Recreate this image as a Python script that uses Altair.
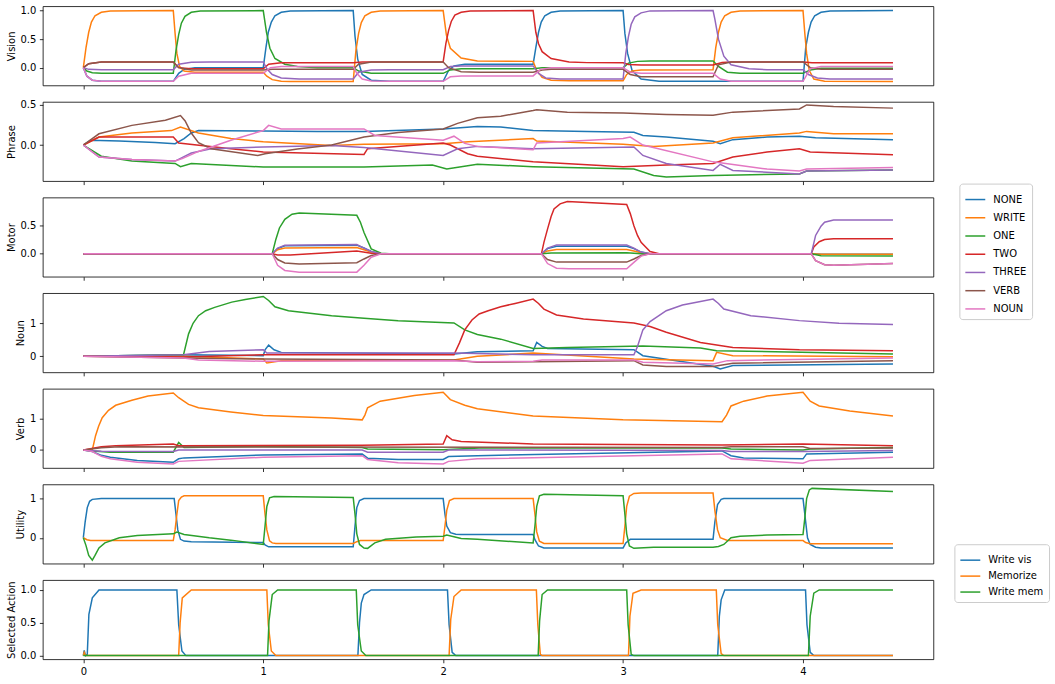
import altair as alt
import pandas as pd

T_DOMAIN = [-0.225, 4.725]
X_TICKS = [0, 1, 2, 3, 4]
STATE_NAMES = ["NONE", "WRITE", "ONE", "TWO", "THREE", "VERB", "NOUN"]
STATE_COLORS = ["#1f77b4", "#ff7f0e", "#2ca02c", "#d62728", "#9467bd", "#8c564b", "#e377c2"]
ACTION_NAMES = ["Write vis", "Memorize", "Write mem"]
ACTION_COLORS = ["#1f77b4", "#ff7f0e", "#2ca02c"]

# ---------------- Vision ----------------
VIS_NONE = [[0,0],[0.02,-0.15],[0.05,-0.22],[0.1,-0.24],[0.5,-0.24],[0.53,-0.1],[0.56,-0.03],[0.62,0.0],[1.0,0.0],[1.015,0.35],[1.028,0.62],[1.045,0.8],[1.065,0.91],[1.1,0.97],[1.15,0.995],[1.5,1.0],[1.51,0.55],[1.525,0.15],[1.55,-0.12],[1.6,-0.22],[1.7,-0.24],[2.0,-0.24],[2.03,-0.05],[2.06,0.03],[2.12,0.06],[2.5,0.06],[2.515,0.35],[2.53,0.62],[2.545,0.8],[2.565,0.91],[2.6,0.97],[2.65,0.995],[3.0,1.0],[3.01,0.6],[3.025,0.25],[3.05,-0.05],[3.1,-0.2],[3.2,-0.24],[4.0,-0.24],[4.015,0.35],[4.03,0.62],[4.045,0.8],[4.065,0.91],[4.1,0.97],[4.15,0.995],[4.5,1.0]]
VIS_WRITE = [[0,0],[0.015,0.35],[0.03,0.62],[0.045,0.8],[0.065,0.91],[0.1,0.97],[0.15,0.995],[0.5,1.0],[0.51,0.6],[0.52,0.25],[0.535,0.02],[0.56,-0.06],[0.62,-0.08],[1.0,-0.08],[1.02,-0.15],[1.05,-0.21],[1.1,-0.24],[1.15,-0.245],[1.5,-0.245],[1.515,0.3],[1.53,0.6],[1.545,0.79],[1.565,0.91],[1.6,0.97],[1.65,0.995],[2.0,1.0],[2.018,0.57],[2.04,0.34],[2.1,0.17],[2.19,0.115],[2.5,0.11],[2.52,-0.05],[2.55,-0.17],[2.6,-0.22],[2.7,-0.23],[3.0,-0.23],[3.02,-0.12],[3.05,-0.06],[3.1,-0.04],[3.5,-0.035],[3.515,0.35],[3.53,0.62],[3.545,0.8],[3.565,0.91],[3.6,0.97],[3.65,0.995],[4.0,1.0],[4.01,0.6],[4.02,0.25],[4.035,-0.05],[4.06,-0.2],[4.12,-0.24],[4.5,-0.245]]
VIS_ONE = [[0,0],[0.02,-0.06],[0.05,-0.09],[0.1,-0.1],[0.5,-0.1],[0.515,0.3],[0.53,0.58],[0.545,0.78],[0.565,0.9],[0.6,0.97],[0.65,0.995],[1.0,1.0],[1.018,0.62],[1.037,0.34],[1.065,0.16],[1.12,0.06],[1.19,0.02],[1.3,0.0],[1.5,0.0],[1.53,-0.06],[1.6,-0.1],[2.0,-0.1],[2.04,-0.04],[2.1,-0.02],[2.5,-0.02],[2.55,0.0],[3.0,0.0],[3.03,0.08],[3.08,0.11],[3.15,0.115],[3.5,0.115],[3.53,0.02],[3.58,-0.08],[3.65,-0.1],[4.0,-0.1],[4.04,-0.04],[4.1,-0.01],[4.5,-0.01]]
VIS_TWO = [[0,0],[0.03,0.07],[0.1,0.1],[0.5,0.1],[0.53,0.0],[0.6,-0.02],[1.0,-0.02],[1.03,0.06],[1.1,0.087],[1.5,0.087],[1.55,0.1],[2.0,0.1],[2.015,0.42],[2.03,0.65],[2.045,0.81],[2.065,0.92],[2.1,0.97],[2.15,0.995],[2.5,1.0],[2.515,0.62],[2.53,0.42],[2.55,0.28],[2.6,0.16],[2.7,0.1],[2.8,0.088],[3.0,0.087],[3.03,0.055],[3.1,0.046],[3.5,0.046],[3.55,0.09],[3.6,0.1],[4.0,0.1],[4.05,0.087],[4.5,0.087]]
VIS_THREE = [[0,0],[0.03,-0.03],[0.1,-0.035],[0.5,-0.035],[0.53,0.06],[0.6,0.095],[0.7,0.1],[1.0,0.1],[1.02,-0.02],[1.05,-0.12],[1.1,-0.18],[1.2,-0.2],[1.5,-0.2],[1.53,-0.08],[1.6,-0.04],[1.7,-0.035],[2.0,-0.035],[2.04,0.02],[2.1,0.03],[2.5,0.03],[2.53,-0.1],[2.57,-0.18],[2.65,-0.2],[3.0,-0.2],[3.015,0.25],[3.03,0.55],[3.045,0.76],[3.065,0.89],[3.1,0.96],[3.15,0.995],[3.5,1.0],[3.51,0.85],[3.53,0.5],[3.56,0.2],[3.6,0.05],[3.7,-0.02],[3.8,-0.035],[4.0,-0.035],[4.03,-0.12],[4.08,-0.18],[4.15,-0.2],[4.5,-0.2]]
VIS_VERB = [[0,0],[0.03,0.07],[0.1,0.1],[0.5,0.1],[0.53,0.0],[0.6,-0.04],[1.0,-0.04],[1.05,-0.03],[1.5,-0.03],[1.53,0.06],[1.6,0.1],[2.0,0.1],[2.03,0.0],[2.1,-0.07],[2.2,-0.08],[2.5,-0.08],[2.55,-0.04],[2.6,-0.03],[3.0,-0.03],[3.04,-0.12],[3.1,-0.16],[3.5,-0.16],[3.53,0.05],[3.6,0.1],[4.0,0.1],[4.04,0.0],[4.1,-0.03],[4.5,-0.03]]
VIS_NOUN = [[0,0],[0.02,-0.15],[0.05,-0.22],[0.1,-0.24],[0.5,-0.24],[0.53,-0.15],[0.6,-0.1],[1.0,-0.1],[1.04,0.0],[1.1,0.02],[1.5,0.02],[1.52,-0.1],[1.55,-0.2],[1.6,-0.235],[1.7,-0.24],[2.0,-0.24],[2.04,-0.16],[2.1,-0.145],[2.5,-0.145],[2.54,-0.03],[2.6,0.0],[3.0,0.0],[3.04,-0.08],[3.1,-0.1],[3.5,-0.1],[3.54,-0.2],[3.6,-0.24],[4.0,-0.24],[4.04,-0.02],[4.1,0.02],[4.5,0.02]]

# ---------------- Phrase ----------------
PHR_NONE = [[0,0],[0.04,0.06],[0.2,0.05],[0.4,0.03],[0.51,0.017],[0.56,0.08],[0.6,0.15],[0.64,0.18],[1.0,0.175],[1.3,0.17],[1.56,0.17],[2.0,0.2],[2.19,0.23],[2.32,0.225],[2.5,0.18],[2.8,0.17],[3.06,0.16],[3.11,0.12],[3.24,0.1],[3.5,0.046],[3.54,0.017],[3.61,0.067],[3.8,0.1],[3.98,0.108],[4.07,0.09],[4.5,0.067]]
PHR_WRITE = [[0,0],[0.087,0.1],[0.27,0.15],[0.49,0.18],[0.54,0.225],[0.64,0.15],[0.82,0.08],[1.0,0.04],[1.38,-0.005],[1.56,0.01],[2.0,0.017],[2.14,0.04],[2.5,0.08],[2.52,0.05],[3.0,0.01],[3.17,-0.017],[3.5,0.025],[3.61,0.09],[3.98,0.15],[4.02,0.17],[4.17,0.14],[4.5,0.14]]
PHR_ONE = [[0,0],[0.1,-0.14],[0.27,-0.2],[0.51,-0.23],[0.54,-0.27],[0.6,-0.23],[1.0,-0.275],[1.56,-0.275],[1.94,-0.25],[2.02,-0.3],[2.19,-0.24],[2.5,-0.27],[3.06,-0.3],[3.17,-0.38],[3.24,-0.4],[3.5,-0.38],[3.98,-0.36],[4.02,-0.325],[4.5,-0.31]]
PHR_TWO = [[0,0],[0.087,0.1],[0.3,0.1],[0.5,0.1],[0.53,0.025],[0.82,-0.046],[1.0,-0.088],[1.56,-0.117],[1.58,-0.046],[2.0,0.025],[2.04,0.0],[2.136,-0.108],[2.19,-0.14],[2.5,-0.21],[3.0,-0.27],[3.24,-0.25],[3.5,-0.23],[3.61,-0.15],[3.8,-0.088],[3.98,-0.046],[4.04,-0.088],[4.5,-0.12]]
PHR_THREE = [[0,0],[0.087,-0.15],[0.27,-0.18],[0.51,-0.2],[0.6,-0.1],[0.71,-0.046],[1.0,-0.025],[1.38,-0.005],[1.56,-0.03],[2.0,-0.13],[2.08,-0.046],[2.19,-0.017],[2.5,-0.046],[3.06,-0.025],[3.11,-0.13],[3.24,-0.23],[3.5,-0.317],[3.54,-0.24],[3.61,-0.317],[3.98,-0.36],[4.02,-0.325],[4.5,-0.31]]
PHR_VERB = [[0,0],[0.087,0.14],[0.27,0.245],[0.456,0.31],[0.54,0.367],[0.566,0.3],[0.6,0.15],[0.64,0.03],[0.71,-0.046],[0.97,-0.13],[1.01,-0.11],[1.19,-0.05],[1.38,0.0],[1.56,0.1],[1.75,0.155],[2.0,0.2],[2.08,0.27],[2.19,0.34],[2.32,0.36],[2.5,0.43],[2.52,0.44],[2.69,0.41],[3.0,0.4],[3.24,0.38],[3.5,0.37],[3.61,0.41],[3.98,0.45],[4.02,0.5],[4.17,0.48],[4.5,0.46]]
PHR_NOUN = [[0,0],[0.087,-0.15],[0.27,-0.18],[0.51,-0.2],[0.55,-0.17],[0.64,-0.08],[0.82,0.06],[1.0,0.18],[1.03,0.245],[1.1,0.2],[1.56,0.2],[1.62,0.12],[2.0,0.06],[2.06,0.11],[2.12,0.02],[2.19,-0.017],[2.5,-0.058],[2.52,0.025],[3.0,0.08],[3.04,0.1],[3.11,0.0],[3.5,-0.21],[3.8,-0.3],[3.98,-0.325],[4.02,-0.3],[4.5,-0.28]]

# ---------------- Motor ----------------
MOT_NONE = [[0,0],[1.05,0],[1.08,0.09],[1.12,0.14],[1.52,0.15],[1.56,0.1],[1.6,0.04],[1.655,0],[2.546,0],[2.58,0.09],[2.63,0.13],[3.02,0.13],[3.06,0.09],[3.1,0.03],[3.15,0],[4.046,0],[4.1,-0.01],[4.5,-0.01]]
MOT_WRITE = [[0,0],[1.05,0],[1.08,0.07],[1.12,0.1],[1.52,0.11],[1.56,0.07],[1.6,0.03],[1.655,0],[2.546,0],[2.58,0.05],[2.63,0.075],[3.02,0.075],[3.06,0.05],[3.1,0.02],[3.15,0],[4.046,0],[4.1,-0.01],[4.5,-0.01]]
MOT_ONE = [[0,0],[1.05,0],[1.07,0.25],[1.09,0.45],[1.12,0.6],[1.16,0.69],[1.2,0.71],[1.52,0.67],[1.54,0.55],[1.56,0.37],[1.6,0.086],[1.655,0.01],[1.7,0],[2.546,0],[2.6,0.015],[3.02,0.017],[3.1,0],[4.046,0],[4.1,-0.035],[4.5,-0.04]]
MOT_TWO = [[0,0],[1.05,0],[1.08,-0.02],[1.15,-0.02],[1.52,0.05],[1.6,0.01],[1.655,0],[2.546,0],[2.56,0.2],[2.58,0.43],[2.6,0.65],[2.616,0.78],[2.65,0.87],[2.69,0.91],[3.02,0.86],[3.04,0.7],[3.06,0.49],[3.08,0.32],[3.1,0.2],[3.15,0.04],[3.2,0],[4.046,0],[4.06,0.12],[4.09,0.21],[4.12,0.25],[4.17,0.26],[4.5,0.26]]
MOT_THREE = [[0,0],[1.05,0],[1.08,0.1],[1.12,0.15],[1.52,0.16],[1.56,0.1],[1.6,0.04],[1.655,0],[2.546,0],[2.58,0.1],[2.63,0.155],[3.02,0.155],[3.06,0.1],[3.1,0.03],[3.15,0],[4.046,0],[4.07,0.32],[4.1,0.48],[4.12,0.55],[4.17,0.59],[4.5,0.59]]
MOT_VERB = [[0,0],[1.05,0],[1.08,-0.1],[1.12,-0.16],[1.2,-0.18],[1.52,-0.155],[1.56,-0.09],[1.6,-0.03],[1.655,0],[2.546,0],[2.58,-0.1],[2.63,-0.145],[3.02,-0.145],[3.06,-0.09],[3.1,-0.03],[3.15,0],[4.046,0],[4.07,-0.12],[4.12,-0.19],[4.17,-0.2],[4.5,-0.17]]
MOT_NOUN = [[0,0],[1.05,0],[1.08,-0.2],[1.12,-0.29],[1.2,-0.32],[1.52,-0.32],[1.56,-0.2],[1.6,-0.06],[1.655,0],[2.546,0],[2.58,-0.17],[2.63,-0.25],[2.7,-0.26],[3.02,-0.26],[3.06,-0.15],[3.1,-0.04],[3.15,0],[4.046,0],[4.07,-0.12],[4.12,-0.19],[4.17,-0.2],[4.5,-0.17]]

# ---------------- Noun ----------------
NOUN_NONE = [[0,0],[0.557,0.05],[1.0,0.02],[1.01,0.2],[1.03,0.34],[1.06,0.2],[1.1,0.12],[2.06,0.07],[2.19,0.14],[2.5,0.17],[2.52,0.42],[2.55,0.3],[2.58,0.24],[3.06,0.2],[3.11,0.02],[3.5,-0.3],[3.54,-0.38],[3.61,-0.28],[4.5,-0.23]]
NOUN_WRITE = [[0,0],[0.557,0.0],[1.0,-0.08],[1.02,-0.2],[1.1,-0.13],[2.06,-0.11],[2.19,0.0],[2.5,0.1],[3.06,-0.08],[3.5,-0.13],[3.52,0.12],[3.61,0.02],[4.5,-0.01]]
NOUN_ONE = [[0,0],[0.557,0.05],[0.585,0.68],[0.61,1.0],[0.64,1.23],[0.68,1.38],[0.73,1.48],[0.825,1.64],[0.9,1.72],[1.0,1.81],[1.03,1.69],[1.065,1.5],[1.14,1.38],[1.38,1.23],[1.56,1.15],[1.75,1.08],[2.06,1.01],[2.12,0.8],[2.19,0.66],[2.32,0.52],[2.5,0.24],[2.69,0.27],[3.11,0.31],[3.43,0.25],[3.52,0.17],[4.5,0.07]]
NOUN_TWO = [[0,0],[0.557,-0.02],[1.0,0.05],[2.06,0.05],[2.09,0.4],[2.12,0.8],[2.16,1.1],[2.2,1.28],[2.25,1.38],[2.32,1.5],[2.4,1.6],[2.5,1.73],[2.53,1.6],[2.56,1.43],[2.63,1.25],[2.78,1.13],[3.06,1.01],[3.15,0.9],[3.24,0.73],[3.43,0.42],[3.61,0.27],[3.98,0.2],[4.5,0.17]]
NOUN_THREE = [[0,0],[0.557,0.05],[0.7,0.15],[1.0,0.2],[1.02,0.1],[2.06,0.1],[2.5,0.05],[3.06,0.05],[3.08,0.3],[3.11,0.8],[3.15,1.05],[3.24,1.38],[3.33,1.55],[3.43,1.66],[3.5,1.73],[3.53,1.6],[3.56,1.43],[3.71,1.23],[3.98,1.08],[4.2,1.0],[4.5,0.96]]
NOUN_VERB = [[0,0],[0.557,-0.05],[1.0,-0.08],[2.06,-0.11],[2.19,-0.18],[2.5,-0.16],[3.06,-0.13],[3.11,-0.26],[3.24,-0.31],[3.5,-0.31],[3.61,-0.21],[4.5,-0.13]]
NOUN_NOUN = [[0,0],[0.557,-0.05],[0.64,-0.11],[1.0,-0.15],[2.06,-0.13],[2.19,-0.16],[2.5,-0.15],[2.55,-0.11],[3.06,-0.11],[3.11,-0.18],[3.5,-0.23],[3.58,-0.13],[4.5,-0.05]]

# ---------------- Verb ----------------
VERB_NONE = [[0,0],[0.05,-0.05],[0.1,-0.17],[0.15,-0.23],[0.3,-0.33],[0.5,-0.39],[0.53,-0.28],[0.56,-0.25],[1.0,-0.16],[1.55,-0.125],[1.58,-0.26],[1.75,-0.3],[2.0,-0.3],[2.03,-0.21],[2.19,-0.18],[3.55,-0.03],[3.6,-0.18],[3.67,-0.25],[4.0,-0.28],[4.02,-0.125],[4.5,-0.07]]
VERB_WRITE = [[0,0],[0.05,0.0],[0.068,0.45],[0.085,0.75],[0.105,1.02],[0.14,1.25],[0.18,1.41],[0.27,1.57],[0.36,1.7],[0.5,1.8],[0.53,1.65],[0.585,1.44],[0.64,1.33],[0.82,1.2],[1.0,1.09],[1.38,1.01],[1.55,0.95],[1.565,1.1],[1.58,1.33],[1.65,1.54],[1.84,1.72],[2.0,1.82],[2.04,1.59],[2.12,1.41],[2.19,1.3],[2.5,1.07],[3.0,0.95],[3.55,0.89],[3.575,1.1],[3.6,1.39],[3.67,1.54],[3.8,1.7],[4.0,1.82],[4.04,1.54],[4.09,1.39],[4.26,1.23],[4.5,1.07]]
VERB_ONE = [[0,0],[0.05,-0.03],[0.15,-0.07],[0.5,-0.07],[0.53,0.24],[0.56,0.08],[1.0,0.11],[1.55,0.08],[1.58,0.03],[2.0,0.01],[2.2,0.06],[3.55,0.06],[3.6,0.03],[4.0,0.0],[4.04,0.03],[4.5,0.08]]
VERB_TWO = [[0,0],[0.1,0.1],[0.18,0.135],[0.5,0.19],[0.53,0.135],[1.55,0.15],[2.0,0.19],[2.02,0.45],[2.05,0.32],[2.1,0.27],[2.5,0.19],[3.0,0.17],[3.55,0.16],[4.0,0.19],[4.5,0.135]]
VERB_THREE = [[0,0],[0.1,-0.04],[0.5,-0.05],[0.53,0.0],[1.55,0.0],[1.58,-0.07],[2.0,-0.07],[2.03,0.0],[3.55,-0.02],[3.6,-0.05],[4.0,-0.05],[4.5,-0.02]]
VERB_VERB = [[0,0],[0.1,0.07],[0.2,0.1],[3.55,0.08],[3.6,0.1],[4.0,0.1],[4.04,0.05],[4.5,0.06]]
VERB_NOUN = [[0,0],[0.05,-0.05],[0.1,-0.2],[0.15,-0.28],[0.3,-0.39],[0.5,-0.44],[0.53,-0.36],[1.0,-0.23],[1.55,-0.18],[1.58,-0.3],[1.75,-0.4],[2.0,-0.44],[2.03,-0.36],[2.19,-0.28],[3.55,-0.125],[3.6,-0.28],[4.0,-0.42],[4.04,-0.33],[4.5,-0.23]]

# ---------------- Utility ----------------
UT_VIS = [[0,0],[0.01,0.4],[0.022,0.77],[0.035,0.93],[0.05,0.98],[0.1,1.0],[0.505,1.0],[0.515,0.6],[0.525,0.2],[0.54,-0.04],[0.56,-0.085],[0.6,-0.1],[1.0,-0.12],[1.01,-0.18],[1.03,-0.23],[1.5,-0.23],[1.51,0.3],[1.52,0.77],[1.535,0.95],[1.56,1.0],[2.0,1.0],[2.01,0.6],[2.02,0.3],[2.04,0.13],[2.07,0.09],[2.1,0.085],[2.5,0.085],[2.51,-0.05],[2.53,-0.21],[2.56,-0.26],[3.0,-0.26],[3.015,-0.13],[3.04,-0.04],[3.5,-0.04],[3.51,0.4],[3.525,0.85],[3.545,0.98],[3.56,1.0],[4.0,1.0],[4.01,0.6],[4.025,0.0],[4.04,-0.17],[4.07,-0.24],[4.1,-0.26],[4.5,-0.26]]
UT_MEM = [[0,0],[0.02,-0.05],[0.04,-0.07],[0.5,-0.07],[0.51,0.2],[0.52,0.6],[0.53,0.95],[0.545,1.04],[0.56,1.07],[1.0,1.07],[1.01,0.6],[1.02,0.2],[1.035,-0.08],[1.05,-0.13],[1.07,-0.145],[1.5,-0.145],[1.52,-0.1],[1.54,-0.07],[2.0,-0.07],[2.01,0.3],[2.02,0.7],[2.035,0.95],[2.06,1.0],[2.5,1.0],[2.51,0.6],[2.52,0.15],[2.535,-0.085],[2.56,-0.145],[3.0,-0.145],[3.01,0.3],[3.02,0.8],[3.035,1.06],[3.06,1.13],[3.1,1.14],[3.5,1.14],[3.51,0.7],[3.525,0.2],[3.54,0.0],[3.58,-0.07],[4.0,-0.07],[4.015,-0.12],[4.04,-0.15],[4.5,-0.155]]
UT_WMEM = [[0,0],[0.015,-0.2],[0.03,-0.45],[0.05,-0.57],[0.065,-0.45],[0.087,-0.26],[0.12,-0.13],[0.2,0.0],[0.3,0.06],[0.5,0.1],[0.52,0.145],[0.56,0.085],[0.7,0.0],[0.82,-0.06],[1.0,-0.17],[1.01,0.3],[1.02,0.8],[1.035,1.02],[1.06,1.05],[1.5,1.03],[1.51,0.6],[1.52,0.1],[1.535,-0.17],[1.56,-0.26],[1.58,-0.27],[1.62,-0.13],[1.68,-0.04],[1.85,0.017],[2.0,0.04],[2.02,0.07],[2.1,-0.017],[2.19,-0.04],[2.5,-0.13],[2.51,0.3],[2.52,0.8],[2.535,1.07],[2.56,1.11],[3.0,1.07],[3.01,0.6],[3.02,0.1],[3.035,-0.21],[3.06,-0.27],[3.17,-0.24],[3.5,-0.24],[3.53,-0.22],[3.56,-0.17],[3.6,0.0],[3.65,0.04],[3.8,0.07],[4.0,0.085],[4.01,0.5],[4.02,1.0],[4.035,1.22],[4.05,1.26],[4.5,1.18]]

# ---------------- Selected Action ----------------
SA_VIS = [[0,0],[0.005,0.08],[0.012,0.0],[0.022,0.02],[0.031,0.63],[0.05,0.88],[0.087,1.0],[0.52,1.0],[0.53,0.47],[0.548,0.07],[0.57,0.0],[1.526,0.0],[1.535,0.5],[1.545,0.8],[1.56,0.93],[1.6,1.0],[2.024,1.0],[2.033,0.47],[2.05,0.05],[2.07,0.0],[3.526,0.0],[3.535,0.6],[3.545,0.85],[3.565,1.0],[4.014,1.0],[4.022,0.47],[4.04,0.05],[4.06,0.0],[4.5,0.0]]
SA_MEM = [[0,0],[0.005,0.05],[0.012,0.0],[0.53,0.0],[0.538,0.5],[0.55,0.88],[0.6,1.0],[1.02,1.0],[1.028,0.47],[1.045,0.07],[1.07,0.0],[2.033,0.0],[2.042,0.55],[2.06,0.9],[2.1,1.0],[2.518,1.0],[2.526,0.47],[2.54,0.02],[2.55,0.0],[3.03,0.0],[3.038,0.6],[3.055,0.95],[3.1,1.0],[3.518,1.0],[3.526,0.47],[3.545,0.03],[3.56,0.0],[4.5,0.0]]
SA_WMEM = [[0,0],[1.024,0.0],[1.032,0.53],[1.05,0.93],[1.08,1.0],[1.517,1.0],[1.525,0.47],[1.545,0.07],[1.57,0.0],[2.528,0.0],[2.536,0.53],[2.55,0.93],[2.58,1.0],[3.02,1.0],[3.028,0.47],[3.045,0.02],[3.06,0.0],[4.03,0.0],[4.04,0.6],[4.06,0.95],[4.09,1.0],[4.5,1.0]]

PANEL_W = 894
PANEL_H = 79.5


def make_legend(x, y, row_pad):
    return alt.Legend(
        orient="none", legendX=x, legendY=y, title=None,
        symbolType="stroke", symbolSize=400, symbolStrokeWidth=1.5,
        labelFont="DejaVu Sans", labelFontSize=10, labelColor="black",
        labelOffset=7, rowPadding=row_pad, padding=5,
        strokeColor="#cccccc", fillColor="white", cornerRadius=3,
    )


def panel(title, series, names, colors, domain, yticks, yfmt, x_labels=False, legend=None):
    layers = []
    for name, pts in zip(names, series):
        df = pd.DataFrame(pts, columns=["t", "v"])
        df["series"] = name
        layers.append(
            alt.Chart(df).mark_line(strokeWidth=1.5, clip=True).encode(
                x=alt.X("t:Q", scale=alt.Scale(domain=T_DOMAIN, nice=False, zero=False),
                        axis=alt.Axis(values=X_TICKS, format="d", labels=x_labels, title=None,
                                      grid=False, domain=False)),
                y=alt.Y("v:Q", scale=alt.Scale(domain=domain, nice=False, zero=False),
                        axis=alt.Axis(values=yticks, format=yfmt, title=title, grid=False,
                                      domain=False)),
                color=alt.Color("series:N", scale=alt.Scale(domain=names, range=colors),
                                legend=legend),
            )
        )
    return alt.layer(*layers).properties(width=PANEL_W, height=PANEL_H)


p_vision = panel("Vision", [VIS_NONE, VIS_WRITE, VIS_ONE, VIS_TWO, VIS_THREE, VIS_VERB, VIS_NOUN],
                 STATE_NAMES, STATE_COLORS, [-0.3125, 1.076], [0, 0.5, 1.0], ".1f")
p_phrase = panel("Phrase", [PHR_NONE, PHR_WRITE, PHR_ONE, PHR_TWO, PHR_THREE, PHR_VERB, PHR_NOUN],
                 STATE_NAMES, STATE_COLORS, [-0.45, 0.5375], [0, 0.5], ".1f")
p_motor = panel("Motor", [MOT_NONE, MOT_WRITE, MOT_ONE, MOT_TWO, MOT_THREE, MOT_VERB, MOT_NOUN],
                STATE_NAMES, STATE_COLORS, [-0.40, 0.98], [0, 0.5], ".1f",
                legend=make_legend(920, -14, 2.3))
p_noun = panel("Noun", [NOUN_NONE, NOUN_WRITE, NOUN_ONE, NOUN_TWO, NOUN_THREE, NOUN_VERB, NOUN_NOUN],
               STATE_NAMES, STATE_COLORS, [-0.485, 1.91], [0, 1], "d")
p_verb = panel("Verb", [VERB_NONE, VERB_WRITE, VERB_ONE, VERB_TWO, VERB_THREE, VERB_VERB, VERB_NOUN],
               STATE_NAMES, STATE_COLORS, [-0.57, 1.93], [0, 1], "d")
p_util = panel("Utility", [UT_VIS, UT_MEM, UT_WMEM], ACTION_NAMES, ACTION_COLORS,
               [-0.66, 1.36], [0, 1], "d")
p_sel = panel("Selected Action", [SA_VIS, SA_MEM, SA_WMEM], ACTION_NAMES, ACTION_COLORS,
              [-0.056, 1.15], [0, 0.5, 1.0], ".1f", x_labels=True,
              legend=make_legend(915, -36, -0.7))

chart = alt.vconcat(
    p_vision, p_phrase, p_motor, p_noun, p_verb, p_util, p_sel, spacing=16, bounds="flush"
).resolve_scale(
    color="independent"
).properties(
    padding={"left": 5, "top": 3, "right": 5, "bottom": 5},
    background="white",
).configure_view(
    stroke="black", strokeWidth=0.8
).configure_axis(
    labelFont="DejaVu Sans", labelFontSize=10, labelColor="black",
    titleFont="DejaVu Sans", titleFontSize=10, titleFontWeight="normal", titleColor="black",
    tickColor="black", tickWidth=0.8, tickSize=3.5, labelPadding=3.5, titlePadding=4,
)

chart.save("out.html", embed_options={"renderer": "svg", "actions": False})
